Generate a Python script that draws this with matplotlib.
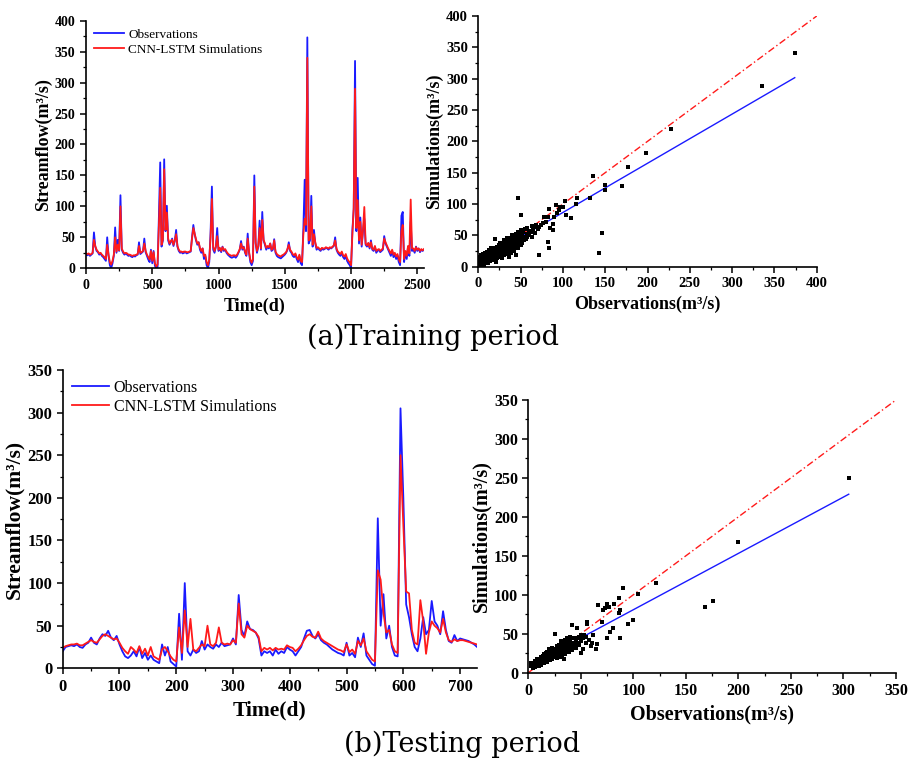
import numpy as np
import matplotlib
matplotlib.use("Agg")
import matplotlib.pyplot as plt

plt.rcParams['font.family'] = ['Liberation Serif', 'DejaVu Serif']
plt.rcParams['font.weight'] = 'bold'
plt.rcParams['axes.labelweight'] = 'bold'

# ---- training period, daily streamflow sampled every 10 days ----
train_step = 10
obs_train = [
    22, 21, 23, 20, 22, 24, 58, 35, 28, 26,
    22, 24, 20, 18, 15, 12, 50, 20, 5, 0,
    8, 20, 66, 25, 46, 28, 118, 30, 25, 22,
    24, 22, 20, 21, 19, 18, 20, 19, 21, 22,
    42, 23, 25, 27, 48, 26, 20, 14, 10, 30,
    8, 28, 4, 0, 2, 83, 171, 35, 45, 176,
    60, 101, 45, 38, 42, 48, 36, 44, 62, 35,
    28, 25, 26, 24, 25, 26, 24, 25, 26, 27,
    50, 70, 55, 45, 38, 42, 30, 25, 32, 15,
    20, 5, 0, 10, 58, 132, 30, 25, 35, 65,
    28, 32, 26, 35, 28, 30, 25, 22, 20, 18,
    17, 18, 19, 17, 20, 25, 30, 44, 30, 35,
    25, 20, 56, 25, 10, 5, 12, 150, 40, 25,
    35, 77, 30, 91, 45, 38, 30, 35, 32, 40,
    28, 30, 47, 25, 20, 18, 17, 16, 18, 20,
    22, 25, 30, 42, 28, 25, 20, 18, 22, 15,
    10, 20, 8, 5, 64, 143, 60, 373, 40, 45,
    117, 35, 62, 40, 30, 33, 30, 28, 32, 30,
    31, 33, 32, 30, 33, 32, 34, 36, 50, 30,
    25, 22, 20, 25, 18, 15, 20, 12, 8, 5,
    0, 62, 95, 335, 60, 146, 40, 82, 35, 60,
    80, 38, 35, 40, 32, 45, 30, 28, 35, 25,
    28, 30, 26, 28, 30, 52, 40, 35, 30, 25,
    20, 28, 18, 22, 15, 20, 10, 5, 85, 91,
    10, 25, 15, 35, 20, 75, 28, 30, 25, 35,
    28, 32, 26, 30, 28, 30,
]
sim_train = [
    24, 23, 24, 22, 23, 25, 46, 36, 30, 27,
    24, 25, 22, 20, 18, 15, 38, 22, 10, 6,
    12, 22, 50, 27, 38, 29, 100, 32, 27, 24,
    25, 24, 22, 22, 21, 20, 21, 21, 22, 23,
    36, 25, 26, 28, 40, 28, 22, 18, 14, 28,
    12, 26, 8, 3, 6, 70, 130, 38, 46, 160,
    62, 90, 48, 40, 44, 46, 38, 45, 55, 36,
    30, 27, 27, 26, 27, 27, 26, 26, 27, 28,
    48, 65, 56, 47, 40, 42, 33, 28, 32, 20,
    22, 10, 5, 14, 50, 112, 34, 28, 35, 52,
    30, 33, 28, 34, 30, 31, 27, 24, 22, 21,
    20, 21, 21, 20, 22, 26, 31, 40, 32, 34,
    27, 22, 48, 27, 14, 9, 15, 132, 42, 28,
    36, 65, 32, 78, 46, 40, 33, 36, 34, 40,
    30, 32, 45, 27, 23, 21, 20, 19, 21, 22,
    24, 26, 31, 38, 30, 27, 23, 21, 24, 18,
    14, 22, 12, 10, 55, 80, 70, 340, 45, 48,
    100, 38, 55, 42, 33, 34, 32, 30, 33, 32,
    32, 34, 33, 32, 34, 33, 35, 37, 45, 32,
    27, 25, 23, 27, 21, 19, 23, 16, 12, 10,
    5, 55, 98, 290, 65, 110, 45, 75, 38, 62,
    99, 40, 37, 41, 34, 42, 32, 30, 36, 28,
    30, 31, 28, 30, 32, 48, 42, 37, 32, 28,
    24, 30, 22, 25, 19, 23, 15, 10, 60, 70,
    15, 28, 20, 36, 24, 111, 32, 32, 28, 34,
    30, 32, 28, 31, 29, 31,
]

# ---- testing period, sampled every 5 days ----
test_step = 5
obs_test = [
    20, 25, 26, 27, 26, 28, 25, 24, 28, 30,
    36, 30, 28, 35, 40, 38, 44, 36, 33, 38,
    28, 20, 14, 12, 15, 20, 14, 25, 12, 18,
    10, 15, 10, 8, 6, 28, 15, 25, 8, 5,
    2, 64, 10, 100, 20, 15, 22, 18, 20, 32,
    22, 28, 25, 23, 28, 25, 30, 26, 27, 28,
    35, 28, 86, 45, 38, 55, 46, 45, 42, 35,
    15, 20, 18, 20, 15, 22, 17, 20, 18, 25,
    22, 20, 15, 20, 25, 35, 44, 45, 38, 35,
    40, 33, 30, 28, 25, 22, 20, 18, 17, 15,
    30, 15, 18, 13, 36, 25, 41, 15, 10, 5,
    3, 176, 50, 87, 35, 50, 25, 15, 14, 305,
    200, 75, 60, 40, 25, 20, 35, 60, 40, 45,
    79, 55, 50, 40, 67, 45, 32, 30, 39, 32,
    35, 34, 33, 32, 30, 28, 25,
]
sim_test = [
    24, 26, 27, 28, 28, 29, 27, 27, 29, 31,
    33, 31, 30, 34, 38, 40, 38, 36, 34, 35,
    30, 24, 20, 17, 25, 22, 18, 26, 17, 23,
    15, 25, 14, 12, 10, 22, 25, 20, 14, 10,
    8, 48, 18, 68, 25, 58, 22, 20, 24, 28,
    26, 50, 28, 26, 30, 48, 30, 28, 29, 28,
    33, 30, 76, 40, 36, 50, 46, 44, 42, 37,
    20, 24, 22, 24, 21, 24, 22, 23, 22, 27,
    25, 24, 20, 23, 27, 33, 38, 40, 37, 36,
    43, 35, 32, 30, 28, 26, 24, 22, 21, 19,
    28, 19, 22, 17, 32, 27, 35, 20, 15, 10,
    8, 115, 104, 65, 42, 45, 28, 20, 18, 250,
    168, 90, 88, 45, 30, 28, 80, 55, 17, 42,
    55, 50, 47, 42, 58, 42, 33, 31, 34, 32,
    33, 33, 32, 31, 30, 29, 28,
]

# ---- scatter (observation, simulation) pairs ----
scatter_train = np.array([
    (1, 5), (1, 12), (2, 3), (2, 9), (2, 16), (3, 6), (3, 12), (3, 18), (4, 2), (4, 8),
    (4, 14), (5, 4), (5, 10), (5, 17), (5, 20), (6, 7), (6, 12), (6, 15), (7, 3), (7, 9),
    (7, 18), (8, 6), (8, 12), (8, 16), (8, 22), (9, 10), (9, 14), (9, 19), (10, 8), (10, 12),
    (10, 17), (10, 24), (11, 6), (11, 14), (11, 20), (12, 10), (12, 16), (12, 22), (13, 12), (13, 18),
    (13, 27), (14, 9), (14, 15), (14, 21), (15, 12), (15, 18), (15, 24), (15, 30), (16, 14), (16, 20),
    (16, 26), (17, 10), (17, 17), (17, 23), (18, 15), (18, 21), (18, 28), (19, 12), (19, 18), (19, 25),
    (20, 16), (20, 22), (20, 30), (20, 44), (21, 8), (21, 20), (21, 27), (22, 14), (22, 24), (22, 32),
    (23, 18), (23, 26), (24, 20), (24, 28), (24, 35), (25, 16), (25, 24), (25, 31), (26, 22), (26, 30),
    (26, 38), (27, 19), (27, 27), (27, 34), (28, 14), (28, 24), (28, 32), (29, 21), (29, 29), (29, 37),
    (30, 18), (30, 26), (30, 34), (30, 42), (31, 24), (31, 31), (32, 20), (32, 28), (32, 36), (33, 26),
    (33, 33), (33, 40), (34, 22), (34, 30), (34, 45), (35, 28), (35, 35), (35, 42), (36, 15), (36, 25),
    (36, 32), (36, 39), (37, 30), (37, 37), (37, 46), (38, 27), (38, 34), (38, 41), (39, 22), (39, 32),
    (39, 40), (40, 28), (40, 36), (40, 44), (40, 50), (41, 33), (41, 40), (42, 25), (42, 38), (42, 46),
    (43, 31), (43, 42), (44, 36), (44, 48), (45, 18), (45, 33), (45, 41), (45, 52), (46, 38), (46, 45),
    (47, 30), (47, 43), (47, 56), (48, 36), (48, 48), (49, 40), (49, 52), (50, 34), (50, 45), (50, 58),
    (51, 42), (52, 38), (52, 50), (53, 46), (53, 55), (54, 42), (55, 48), (55, 60), (56, 44), (57, 52),
    (58, 48), (58, 62), (60, 50), (60, 57), (62, 55), (63, 65), (64, 48), (65, 58), (66, 63), (67, 54),
    (68, 66), (70, 60), (72, 64), (74, 66), (76, 70), (78, 79), (80, 72), (82, 79), (85, 62), (88, 58),
    (88, 68), (90, 80), (92, 98), (93, 86), (95, 90), (96, 95), (100, 95),
    (47, 110), (50, 83), (72, 18), (82, 39), (84, 30), (143, 22), (146, 54), (135, 145), (150, 131),
    (150, 122), (170, 128), (177, 159), (198, 182), (228, 219), (335, 289), (374, 341), (117, 109),
    (116, 100), (102, 105), (110, 78), (104, 82), (132, 110), (84, 92),
])
scatter_test = np.array([
    (3, 8), (3, 12), (4, 6), (4, 10), (5, 9), (5, 13), (6, 7), (6, 11), (6, 15), (7, 10),
    (7, 14), (8, 8), (8, 12), (8, 17), (9, 11), (9, 15), (10, 9), (10, 13), (10, 18), (11, 12),
    (11, 16), (12, 10), (12, 14), (12, 20), (13, 13), (13, 18), (14, 15), (14, 21), (15, 12), (15, 17),
    (15, 24), (16, 15), (16, 20), (17, 18), (17, 25), (18, 14), (18, 20), (18, 27), (19, 17), (19, 23),
    (20, 19), (20, 25), (20, 30), (21, 16), (21, 22), (22, 20), (22, 27), (23, 18), (23, 24), (23, 32),
    (24, 22), (24, 28), (25, 20), (25, 26), (25, 49), (26, 23), (26, 30), (27, 19), (27, 27), (27, 34),
    (28, 24), (28, 31), (29, 22), (29, 29), (29, 36), (30, 20), (30, 27), (30, 33), (31, 25), (31, 32),
    (31, 40), (32, 22), (32, 30), (32, 37), (33, 26), (33, 34), (34, 18), (34, 29), (34, 38), (35, 24),
    (35, 32), (35, 42), (36, 28), (36, 36), (37, 26), (37, 33), (37, 44), (38, 30), (38, 39), (39, 27),
    (39, 36), (40, 32), (40, 40), (40, 46), (41, 35), (42, 29), (42, 38), (42, 61), (43, 34), (43, 44),
    (44, 37), (45, 32), (45, 41), (46, 57), (46, 44), (47, 38), (48, 35), (48, 46), (50, 25), (50, 40),
    (50, 48), (52, 30), (52, 44), (53, 48), (55, 38), (55, 46), (56, 62), (56, 65), (58, 42), (60, 34),
    (61, 38), (62, 48), (64, 30), (65, 37), (66, 87), (70, 65), (71, 81), (73, 83), (75, 44), (75, 88),
    (77, 84), (78, 52), (81, 57), (82, 88), (86, 96), (86, 76), (87, 80), (87, 45), (90, 109), (95, 62),
    (100, 68), (104, 101), (122, 115), (168, 84), (176, 92), (200, 168), (305, 250),
])

# linear fit (slope, intercept) of simulations on observations
fit_train = (0.785, 8.0)
fit_test = (0.723, 8.5)

BLUE = '#1a1aff'
RED = '#ff1a1a'


def style_axes(ax, tick_size):
    for side in ['top', 'right']:
        ax.spines[side].set_visible(False)
    for side in ['left', 'bottom']:
        ax.spines[side].set_linewidth(1.2)
    ax.tick_params(which='major', direction='out', length=4, width=1.1, labelsize=tick_size)
    ax.tick_params(which='minor', direction='out', length=2.5, width=0.9)


def plot_series(ax, obs, sim, step, xlim, ylim, major, tick_size, label_size, legend_size):
    days = np.arange(len(obs)) * step
    ax.plot(days, obs, color=BLUE, lw=1.3, label='Observations')
    ax.plot(days, sim, color=RED, lw=1.3, label='CNN-LSTM Simulations')
    ax.set_xlim(*xlim)
    ax.set_ylim(*ylim)
    ax.set_xticks(np.arange(0, xlim[1] + 1, major[0]))
    ax.set_yticks(np.arange(0, ylim[1] + 1, major[1]))
    ax.xaxis.set_minor_locator(matplotlib.ticker.AutoMinorLocator(2))
    ax.yaxis.set_minor_locator(matplotlib.ticker.AutoMinorLocator(2))
    style_axes(ax, tick_size)
    ax.set_xlabel('Time(d)', fontsize=label_size, fontweight='bold')
    ax.set_ylabel('Streamflow(m³/s)', fontsize=label_size, fontweight='bold', labelpad=2)
    ax.legend(loc='upper left', frameon=False, handlelength=2.3,
              prop={'size': legend_size, 'weight': 'normal'},
              handletextpad=0.3, borderaxespad=0.2, labelspacing=0.2)


def plot_scatter(ax, pairs, fit, lim, major, tick_size, label_size):
    obs, sim = pairs[:, 0], pairs[:, 1]
    ax.plot([0, lim], [0, lim], color=RED, lw=1.0, ls=(0, (5, 2, 1, 2)))
    xfit = np.array([obs.min(), obs.max()])
    ax.plot(xfit, fit[0] * xfit + fit[1], color=BLUE, lw=1.0)
    ax.scatter(obs, sim, marker='s', s=7, color='black', linewidths=0, zorder=3)
    ax.set_xlim(0, lim)
    ax.set_ylim(0, lim)
    ax.set_xticks(np.arange(0, lim + 1, major))
    ax.set_yticks(np.arange(0, lim + 1, major))
    ax.xaxis.set_minor_locator(matplotlib.ticker.AutoMinorLocator(2))
    ax.yaxis.set_minor_locator(matplotlib.ticker.AutoMinorLocator(2))
    style_axes(ax, tick_size)
    ax.set_xlabel('Observations(m³/s)', fontsize=label_size, fontweight='bold')
    ax.set_ylabel('Simulations(m³/s)', fontsize=label_size, fontweight='bold', labelpad=2)


fig = plt.figure(figsize=(9.09, 7.63), dpi=100)

ax1 = fig.add_axes([0.0946, 0.6484, 0.3718, 0.3245])
plot_series(ax1, obs_train, sim_train, train_step, (0, 2550), (0, 400), (500, 50), 10, 13, 9.5)

ax2 = fig.add_axes([0.5262, 0.6505, 0.3723, 0.3285])
plot_scatter(ax2, scatter_train, fit_train, 400, 50, 10.5, 13)

ax3 = fig.add_axes([0.069, 0.1241, 0.4559, 0.391])
plot_series(ax3, obs_test, sim_test, test_step, (0, 730), (0, 350), (100, 50), 12, 15.5, 11.5)

ax4 = fig.add_axes([0.5812, 0.1184, 0.4045, 0.3574])
plot_scatter(ax4, scatter_test, fit_test, 350, 50, 11.5, 14.5)

fig.text(0.476, 0.558, '(a)Training period', ha='center', va='center', fontsize=19.5,
         family='DejaVu Serif', fontweight='normal')
fig.text(0.508, 0.024, '(b)Testing period', ha='center', va='center', fontsize=19.5,
         family='DejaVu Serif', fontweight='normal')

fig.savefig('out.png', dpi=100)
